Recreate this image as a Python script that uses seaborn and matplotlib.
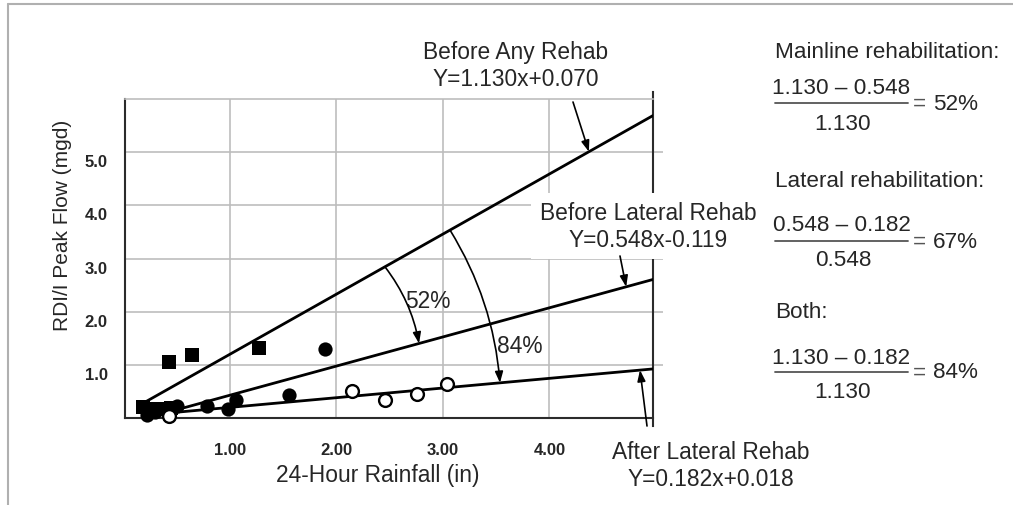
import numpy as np
import pandas as pd
import matplotlib
matplotlib.use("Agg")
import matplotlib.pyplot as plt
import seaborn as sns
from matplotlib.transforms import ScaledTranslation
from matplotlib.lines import Line2D

# Fitted rainfall / peak-flow relations
fit_names = ["Before Any Rehab", "Before Lateral Rehab", "After Lateral Rehab"]
slopes = [1.130, 0.548, 0.182]
intercepts = [0.070, -0.119, 0.018]
fit_x_start = [0.18, 0.25, 0.20]

# Observed storm events
before_any_x = [0.18, 0.28, 0.36, 0.45, 0.43, 0.64, 1.27]
before_any_y = [0.20, 0.16, 0.17, 0.19, 1.06, 1.19, 1.32]
before_lat_x = [0.22, 0.30, 0.50, 0.78, 0.98, 1.06, 1.55, 1.89]
before_lat_y = [0.05, 0.12, 0.22, 0.22, 0.17, 0.34, 0.44, 1.29]
after_lat_x = [0.43, 2.15, 2.46, 2.76, 3.04]
after_lat_y = [0.04, 0.51, 0.34, 0.46, 0.64]

x_ticks = [1, 2, 3, 4]
x_tick_labels = ["1.00", "2.00", "3.00", "4.00"]
y_ticks = [1, 2, 3, 4, 5]
y_tick_labels = ["1.0", "2.0", "3.0", "4.0", "5.0"]
x_range = (0.014, 4.972)
y_range = (0.0, 6.0)

sns.set_style("white")
plt.rcParams["font.family"] = ["Liberation Sans", "DejaVu Sans"]

TXT = "#262626"
GRID = "#bdbdbd"
FS = 16.4          # annotation / axis label size
FS_PANEL = 16.2    # formula panel size
W, H = 1013, 506

fig = plt.figure(figsize=(W / 100, H / 100), dpi=100)
ax = fig.add_axes([125 / W, 1 - 419 / H, 528 / W, 319 / H])

# regression lines
rows = []
for name, m, b, x0 in zip(fit_names, slopes, intercepts, fit_x_start):
    for x in (x0, x_range[1]):
        rows.append({"fit": name, "x": x, "y": m * x + b})
lines_df = pd.DataFrame(rows)
sns.lineplot(data=lines_df, x="x", y="y", hue="fit", units="fit", estimator=None,
             palette=["black"] * 3, linewidth=2.0, legend=False, ax=ax, zorder=3)

# observations
sns.scatterplot(x=before_any_x, y=before_any_y, marker="s", s=110, color="black",
                edgecolor="black", linewidth=0, ax=ax, zorder=4, clip_on=False)
sns.scatterplot(x=before_lat_x, y=before_lat_y, marker="o", s=105, color="black",
                edgecolor="black", linewidth=0, ax=ax, zorder=4, clip_on=False)
sns.scatterplot(x=after_lat_x, y=after_lat_y, marker="o", s=85, color="white",
                edgecolor="black", linewidth=1.7, ax=ax, zorder=4, clip_on=False)

ax.set_xlim(*x_range)
ax.set_ylim(*y_range)
ax.set_xticks(x_ticks)
ax.set_xticklabels(x_tick_labels)
ax.set_yticks(y_ticks)
ax.set_yticklabels(y_tick_labels)
ax.grid(True, color=GRID, linewidth=1.2)
ax.set_axisbelow(True)
for side in ("left", "bottom", "right"):
    ax.spines[side].set_color("#2b2b2b")
    ax.spines[side].set_linewidth(1.5)
ax.spines["top"].set_color(GRID)
ax.spines["top"].set_linewidth(1.2)
ax.spines["right"].set_bounds(-0.15, 6.13)

ax.tick_params(axis="x", length=4.5, width=1.2, color=GRID, pad=12.5,
               labelsize=12, labelcolor=TXT)
ax.tick_params(axis="y", length=7, width=1.2, color=GRID, pad=5.5,
               labelsize=12, labelcolor=TXT, right=True, labelright=False)
for lab in ax.get_xticklabels() + ax.get_yticklabels():
    lab.set_fontweight("bold")
shift = ScaledTranslation(0, -0.08, fig.dpi_scale_trans)
for lab in ax.get_yticklabels():
    lab.set_transform(lab.get_transform() + shift)

ax.set_xlabel("24-Hour Rainfall (in)", fontsize=FS, color=TXT)
ax.xaxis.set_label_coords(0.479, -0.142)
ax.set_ylabel("RDI/I Peak Flow (mgd)", fontsize=15, color=TXT)
ax.yaxis.set_label_coords(-0.100, 0.608)


def line_y(i, x):
    return slopes[i] * x + intercepts[i]


def eq_text(i):
    return f"Y={slopes[i]:.3f}x{intercepts[i]:+.3f}"


def px_to_data(px, py):
    return ax.transData.inverted().transform((px, H - py))


fig.canvas.draw()

box = dict(boxstyle="square,pad=0.38", fc="white", ec="none")
label_style = dict(ha="center", va="center", multialignment="center", fontsize=FS,
                   color=TXT, linespacing=1.2, clip_on=False, zorder=5)

# equation labels
tx, ty = px_to_data(516, 66)
ax.text(tx, ty, f"{fit_names[0]}\n{eq_text(0)}", bbox=box, **label_style)
tx, ty = px_to_data(648, 227)
ax.text(tx, ty, f"{fit_names[1]}\n{eq_text(1)}", bbox=box, **label_style)
tx, ty = px_to_data(711, 466)
ax.text(tx, ty, f"{fit_names[2]}\n{eq_text(2)}", **label_style)

arrow = dict(arrowstyle="-|>,head_length=0.55,head_width=0.2", color="black",
             lw=1.2, mutation_scale=12, shrinkA=0, shrinkB=0)

# leader arrows to each fitted line
leaders = [(0, 4.37, (573, 103)), (1, 4.72, (620, 257)), (2, 4.85, (647, 427))]
for i, xtip, tail in leaders:
    ax.annotate("", xy=(xtip, line_y(i, xtip)), xytext=px_to_data(*tail),
                arrowprops=arrow, annotation_clip=False, zorder=6)

# reduction arcs
pct_main = round(100 * (slopes[0] - slopes[1]) / slopes[0])
pct_lat = round(100 * (slopes[1] - slopes[2]) / slopes[1])
pct_both = round(100 * (slopes[0] - slopes[2]) / slopes[0])

ax.annotate("", xy=(2.775, line_y(1, 2.775)), xytext=(2.455, line_y(0, 2.455)),
            arrowprops=dict(arrow, connectionstyle="arc3,rad=-0.12"), zorder=6)
ax.annotate("", xy=(3.535, line_y(2, 3.535)), xytext=(3.066, line_y(0, 3.066)),
            arrowprops=dict(arrow, connectionstyle="arc3,rad=-0.12"), zorder=6)
tx, ty = px_to_data(428, 302)
ax.text(tx, ty, f"{pct_main}%", ha="center", va="center", fontsize=FS, color=TXT)
tx, ty = px_to_data(520, 347)
ax.text(tx, ty, f"{pct_both}%", ha="center", va="center", fontsize=FS, color=TXT)


# reduction formulas
def fpos(px, py):
    return px / W, 1 - py / H


def fraction(title, a, b, pct, y_title, y_num, y_bar, y_den):
    fs = FS_PANEL
    fig.text(*fpos(775, y_title), title, ha="left", va="center", fontsize=fs, color=TXT)
    fig.text(*fpos(841.5, y_num), f"{a:.3f} \u2013 {b:.3f}", ha="center", va="center",
             fontsize=fs, color=TXT)
    fig.add_artist(Line2D([775 / W, 908 / W], [1 - y_bar / H] * 2, color="#555555",
                          lw=1.3, transform=fig.transFigure))
    fig.text(*fpos(843, y_den), f"{a:.3f}", ha="center", va="center", fontsize=fs, color=TXT)
    fig.text(*fpos(913, y_bar), "=", ha="left", va="center", fontsize=fs, color="#555555")
    fig.text(*fpos(933, y_bar), f"{pct}%", ha="left", va="center", fontsize=fs, color=TXT)


fraction("Mainline rehabilitation:", slopes[0], slopes[1], pct_main, 53, 89, 104, 124)
fraction("Lateral rehabilitation:", slopes[1], slopes[2], pct_lat, 182, 226, 242, 261)
fraction("Both:", slopes[0], slopes[2], pct_both, 312, 359, 373, 393)

# page frame
fig.add_artist(Line2D([8 / W, 8 / W], [0, 1 - 5 / H], color="#b0b0b0", lw=1.5,
                      transform=fig.transFigure))
fig.add_artist(Line2D([8 / W, 1], [1 - 5 / H, 1 - 5 / H], color="#b0b0b0", lw=1.5,
                      transform=fig.transFigure))

fig.savefig("out.png", dpi=100)
